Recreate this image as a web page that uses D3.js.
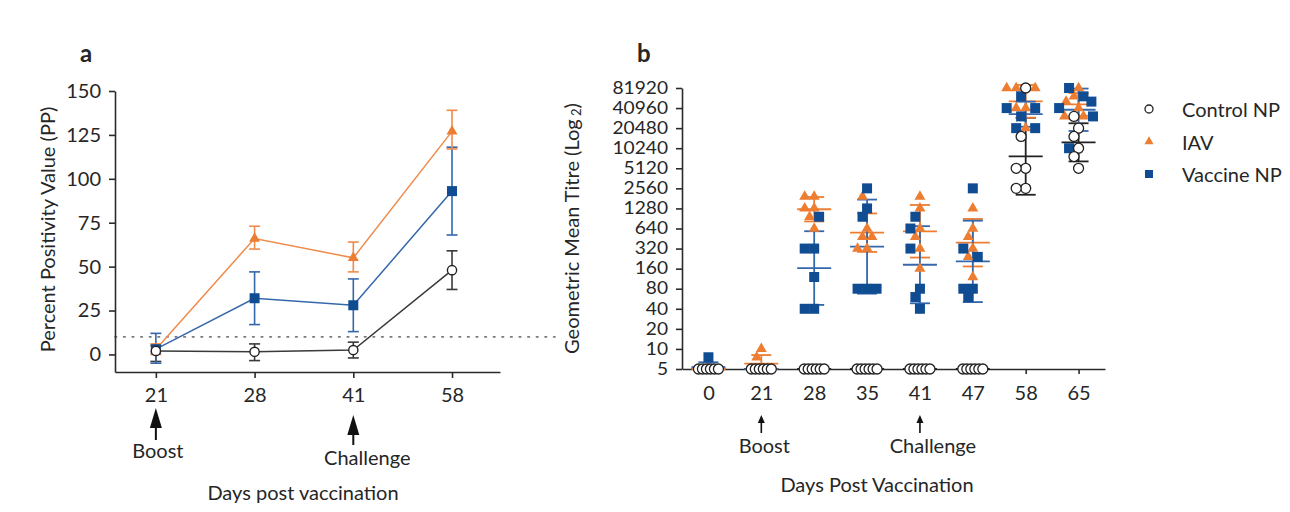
<!DOCTYPE html>
<html>
<head>
<meta charset="utf-8">
<script src="https://cdn.jsdelivr.net/npm/d3@7"></script>
<style>
  body { margin: 0; background: #fff; }
  svg text { font-family: Lato, "Open Sans", sans-serif; fill: #262626; }
</style>
</head>
<body>
<svg id="chart" width="1290" height="512"></svg>
<script>
// ---------- Panel a: percent positivity value (mean with error range) ----------
const ppDays = [21, 28, 41, 58];
const ppControl = [2, 1.5, 2.5, 48];
const ppControlLow = [-4, -3.5, -2, 37];
const ppControlHigh = [5, 6, 7, 59];
const ppIAV = [3, 66, 55, 127];
const ppIAVLow = [0, 60, 47, 117];
const ppIAVHigh = [6, 73, 64, 139];
const ppVaccine = [3, 32, 28, 93];
const ppVaccineLow = [-5, 17, 13, 68];
const ppVaccineHigh = [12, 47, 43, 118];
const ppCutoff = 10;
const ppTicks = [0, 25, 50, 75, 100, 125, 150];

// ---------- Panel b: individual titres per day (log2 scale) ----------
const titreDays = ["0", "21", "28", "35", "41", "47", "58", "65"];
const titreTicks = [5, 10, 20, 40, 80, 160, 320, 640, 1280, 2560, 5120, 10240, 20480, 40960, 81920];
const controlTitres = [
  [5, 5, 5, 5, 5, 5],
  [5, 5, 5, 5, 5, 5],
  [5, 5, 5, 5, 5, 5],
  [5, 5, 5, 5, 5, 5],
  [5, 5, 5, 5, 5, 5],
  [5, 5, 5, 5, 5, 5],
  [81920, 15360, 5120, 5120, 2560, 2560],
  [30720, 20480, 15360, 10240, 7680, 5120]
];
const iavTitres = [
  [5, 5, 5, 5, 5, 5],
  [10, 7.5, 5, 5, 5, 5],
  [1920, 1920, 1280, 1280, 960, 640],
  [1920, 640, 480, 480, 320, 320],
  [1920, 1280, 640, 480, 320, 160],
  [1280, 640, 480, 320, 240, 120],
  [81920, 81920, 81920, 40960, 40960, 20480],
  [81920, 61440, 51200, 40960, 30720, 30720]
];
const vaccineTitres = [
  [7.5, 5, 5, 5, 5, 5],
  [5, 5, 5, 5, 5, 5],
  [960, 320, 320, 120, 40, 40],
  [2560, 1280, 960, 80, 80, 80],
  [960, 640, 320, 80, 60, 40],
  [2560, 320, 240, 80, 80, 60],
  [61440, 40960, 40960, 30720, 20480, 20480],
  [81920, 61440, 51200, 40960, 30720, 10240]
];
const groupNames = ["Control NP", "IAV", "Vaccine NP"];

// ---------- styling ----------
const ORANGE = "#ED7D31";
const ORANGE_LINE = "#EF8B4B";
const BLUE = "#0F4C92";
const BLUE_LINE = "#3467AC";
const DARK = "#2b2b2b";
const FONT = 20;

const svg = d3.select("#chart");

function symbolPath(type, area) {
  return d3.symbol().type(type).size(area)();
}
function arrow(g, x, tipY, headH, headW, stemEnd, stemW) {
  g.append("path")
    .attr("d", `M${x},${tipY} L${x + headW / 2},${tipY + headH} L${x - headW / 2},${tipY + headH} Z`)
    .attr("fill", "#111");
  g.append("line")
    .attr("x1", x).attr("x2", x)
    .attr("y1", tipY + headH - 1).attr("y2", stemEnd)
    .attr("stroke", "#111").attr("stroke-width", stemW);
}
function styleAxis(g, size) {
  g.selectAll("path.domain, .tick line").attr("stroke", DARK).attr("stroke-width", 1.6);
  g.selectAll(".tick text").attr("font-size", size || FONT).attr("fill", "#262626")
    .attr("font-family", "Lato, 'Open Sans', sans-serif");
}

// ================= Panel a =================
const A = { left: 115, right: 500, top: 91, bottom: 372, cutoffRight: 555 };
const xA = d3.scalePoint().domain(ppDays).range([A.left, A.right]).padding(0.45).align(0.46);
const yA = d3.scaleLinear().domain([-10, 150]).range([A.bottom, A.top]);

const ga = svg.append("g");

// cutoff line
ga.append("line")
  .attr("x1", A.left).attr("x2", A.cutoffRight)
  .attr("y1", yA(ppCutoff)).attr("y2", yA(ppCutoff))
  .attr("stroke", "#7a7a7a").attr("stroke-width", 1.6)
  .attr("stroke-dasharray", "1.6,7").attr("stroke-linecap", "round");

// axes
const axA_y = ga.append("g").attr("transform", `translate(${A.left},0)`)
  .call(d3.axisLeft(yA).tickValues(ppTicks).tickSize(6).tickPadding(8).tickSizeOuter(0));
styleAxis(axA_y);
const axA_x = ga.append("g").attr("transform", `translate(0,${A.bottom})`)
  .call(d3.axisBottom(xA).tickSize(6).tickPadding(10).tickSizeOuter(0));
styleAxis(axA_x);

const seriesA = [
  { mean: ppControl, low: ppControlLow, high: ppControlHigh, line: "#3a3a3a", mark: "circle" },
  { mean: ppVaccine, low: ppVaccineLow, high: ppVaccineHigh, line: BLUE_LINE, mark: "square" },
  { mean: ppIAV, low: ppIAVLow, high: ppIAVHigh, line: ORANGE_LINE, mark: "triangle" }
];

const lineA = d3.line().x((d, i) => xA(ppDays[i])).y(d => yA(d));
seriesA.forEach(s => {
  ga.append("path").attr("d", lineA(s.mean))
    .attr("fill", "none").attr("stroke", s.line).attr("stroke-width", 1.5);
  const eb = ga.append("g");
  ppDays.forEach((day, i) => {
    const x = xA(day);
    eb.append("line").attr("x1", x).attr("x2", x)
      .attr("y1", yA(s.low[i])).attr("y2", yA(s.high[i]))
      .attr("stroke", s.line).attr("stroke-width", 1.6);
    [s.low[i], s.high[i]].forEach(v => {
      eb.append("line").attr("x1", x - 5.5).attr("x2", x + 5.5)
        .attr("y1", yA(v)).attr("y2", yA(v))
        .attr("stroke", s.line).attr("stroke-width", 1.6);
    });
  });
});
// markers on top
seriesA.slice().reverse().forEach(s => {
  ppDays.forEach((day, i) => {
    const x = xA(day), y = yA(s.mean[i]);
    if (s.mark === "circle") {
      ga.append("circle").attr("cx", x).attr("cy", y).attr("r", 4.6)
        .attr("fill", "#fff").attr("stroke", "#222").attr("stroke-width", 1.4);
    } else if (s.mark === "square") {
      ga.append("path").attr("transform", `translate(${x},${y})`)
        .attr("d", symbolPath(d3.symbolSquare, 100)).attr("fill", BLUE);
    } else {
      ga.append("path").attr("transform", `translate(${x},${y})`)
        .attr("d", symbolPath(d3.symbolTriangle, 52)).attr("fill", ORANGE);
    }
  });
});

// annotations
ga.append("text").text("a").attr("x", 80).attr("y", 62)
  .attr("font-size", 24).attr("font-weight", "bold").attr("fill", "#111");
ga.append("text").text("Percent Positivity Value (PP)")
  .attr("transform", `translate(47,${(A.top + A.bottom) / 2 - 2}) rotate(-90)`)
  .attr("text-anchor", "middle").attr("dominant-baseline", "central").attr("font-size", FONT);
arrow(ga, xA(21), 408, 20, 12, 440, 2);
arrow(ga, xA(41), 415, 20, 12, 445, 2);
ga.append("text").text("Boost").attr("x", xA(21) + 2).attr("y", 450)
  .attr("text-anchor", "middle").attr("dominant-baseline", "central").attr("font-size", FONT);
ga.append("text").text("Challenge").attr("x", xA(41) + 14).attr("y", 457)
  .attr("text-anchor", "middle").attr("dominant-baseline", "central").attr("font-size", FONT);
ga.append("text").text("Days post vaccination").attr("x", 303).attr("y", 492)
  .attr("text-anchor", "middle").attr("dominant-baseline", "central").attr("font-size", FONT);

// ================= Panel b =================
const B = { left: 682, right: 1105, top: 88, bottom: 369 };
const xB = d3.scalePoint().domain(titreDays).range([B.left, B.right]).padding(0.5);
const yB = d3.scaleLog().base(2).domain([5, 81920]).range([B.bottom, B.top]);

const gb = svg.append("g");

// titre ticks are densely stacked: a smaller face, stretched to full width
const axB_y = gb.append("g").attr("transform", `translate(${B.left},0)`)
  .call(d3.axisLeft(yB).tickValues(titreTicks).tickFormat(d3.format("d")).tickSize(6).tickPadding(8).tickSizeOuter(0));
styleAxis(axB_y, 16.5);
axB_y.selectAll(".tick text").each(function () {
  const w = this.getComputedTextLength();
  d3.select(this).attr("textLength", w * 1.16).attr("lengthAdjust", "spacingAndGlyphs");
});
const axB_x = gb.append("g").attr("transform", `translate(0,${B.bottom})`)
  .call(d3.axisBottom(xB).tickSize(5).tickPadding(12).tickSizeOuter(0));
styleAxis(axB_x);

// assemble points
const groups = [
  { name: groupNames[0], data: controlTitres, mark: "circle", line: "#222" },
  { name: groupNames[1], data: iavTitres, mark: "triangle", line: ORANGE },
  { name: groupNames[2], data: vaccineTitres, mark: "square", line: BLUE_LINE }
];
const floorValue = yB.domain()[0];
const points = [];
titreDays.forEach((day, di) => {
  const col = [];
  groups.forEach((g, gi) => {
    g.data[di].forEach(v => col.push({ day, gi, v, y: yB(v) }));
  });
  // values sitting on the detection floor are packed into a short row
  groups.forEach((g, gi) => {
    const fl = col.filter(p => p.gi === gi && p.v <= floorValue);
    const half = gi === 0 ? 10 : 5;
    fl.forEach((p, i) => { p.dx = fl.length > 1 ? -half + (2 * half * i) / (fl.length - 1) : 0; });
  });
  // remaining values laid out as a beeswarm
  const rest = col.filter(p => p.v > floorValue)
    .sort((a, b) => d3.descending(a.v, b.v) || d3.ascending(a.gi, b.gi));
  const D = 9.5;
  const placed = [];
  rest.forEach(p => {
    const blocks = [];
    placed.forEach(q => {
      const dy = Math.abs(q.y - p.y);
      if (dy < D) {
        const w = Math.sqrt(D * D - dy * dy);
        blocks.push([q.dx - w, q.dx + w]);
      }
    });
    const cands = [0, ...blocks.flat()].sort((a, b) => Math.abs(a) - Math.abs(b) || a - b);
    p.dx = cands.find(c => blocks.every(([lo, hi]) => c <= lo + 1e-6 || c >= hi - 1e-6));
    placed.push(p);
  });
  col.forEach(p => points.push(p));
});

// geometric mean ± SD (log2 space)
groups.forEach((g, gi) => {
  titreDays.forEach((day, di) => {
    const logs = g.data[di].map(v => Math.log2(v));
    const m = d3.mean(logs);
    const sd = d3.deviation(logs) || 0;
    const x = xB(day);
    const gm = Math.pow(2, m), lo = Math.pow(2, m - sd), hi = Math.pow(2, m + sd);
    const lg = gb.append("g").attr("stroke", g.line).attr("stroke-width", 1.8);
    lg.append("line").attr("x1", x).attr("x2", x).attr("y1", yB(lo)).attr("y2", yB(hi));
    lg.append("line").attr("x1", x - 17).attr("x2", x + 17).attr("y1", yB(gm)).attr("y2", yB(gm));
    [lo, hi].forEach(v => lg.append("line").attr("x1", x - 10).attr("x2", x + 10)
      .attr("y1", yB(v)).attr("y2", yB(v)));
  });
});

// markers: IAV, vaccine, then control on top
[1, 2, 0].forEach(gi => {
  points.filter(p => p.gi === gi).forEach(p => {
    const x = xB(p.day) + p.dx, y = p.y;
    if (gi === 0) {
      gb.append("circle").attr("cx", x).attr("cy", y).attr("r", 5)
        .attr("fill", "#fff").attr("stroke", "#222").attr("stroke-width", 1.3);
    } else if (gi === 1) {
      gb.append("path").attr("transform", `translate(${x},${y})`)
        .attr("d", symbolPath(d3.symbolTriangle, 52)).attr("fill", ORANGE);
    } else {
      gb.append("path").attr("transform", `translate(${x},${y})`)
        .attr("d", symbolPath(d3.symbolSquare, 100)).attr("fill", BLUE);
    }
  });
});

// annotations
gb.append("text").text("b").attr("x", 637).attr("y", 62)
  .attr("font-size", 24).attr("font-weight", "bold").attr("fill", "#111");
const yt = gb.append("text")
  .attr("transform", `translate(571,${(B.top + B.bottom) / 2}) rotate(-90)`)
  .attr("text-anchor", "middle").attr("dominant-baseline", "central").attr("font-size", FONT);
yt.append("tspan").text("Geometric Mean Titre (Log");
yt.append("tspan").text(" 2").attr("font-size", 13).attr("dy", 5);
yt.append("tspan").text(")").attr("dy", -5);

arrow(gb, xB("21"), 415, 8, 7, 433, 1.6);
arrow(gb, xB("41"), 415, 8, 7, 433, 1.6);
gb.append("text").text("Boost").attr("x", xB("21") + 3).attr("y", 445)
  .attr("text-anchor", "middle").attr("dominant-baseline", "central").attr("font-size", FONT);
gb.append("text").text("Challenge").attr("x", xB("41") + 13).attr("y", 445)
  .attr("text-anchor", "middle").attr("dominant-baseline", "central").attr("font-size", FONT);
gb.append("text").text("Days Post Vaccination").attr("x", 877).attr("y", 484)
  .attr("text-anchor", "middle").attr("dominant-baseline", "central").attr("font-size", FONT);

// legend
const legend = gb.append("g").attr("transform", "translate(1149,109)");
groups.forEach((g, i) => {
  const row = legend.append("g").attr("transform", `translate(0,${i * 32.5})`);
  if (g.mark === "circle") {
    row.append("circle").attr("r", 4).attr("fill", "#fff").attr("stroke", "#222").attr("stroke-width", 1.3);
  } else if (g.mark === "triangle") {
    row.append("path").attr("d", symbolPath(d3.symbolTriangle, 36)).attr("fill", ORANGE);
  } else {
    row.append("path").attr("d", symbolPath(d3.symbolSquare, 64)).attr("fill", BLUE);
  }
  row.append("text").text(g.name).attr("x", 33).attr("y", 0)
    .attr("dominant-baseline", "central").attr("font-size", FONT);
});
</script>
</body>
</html>
